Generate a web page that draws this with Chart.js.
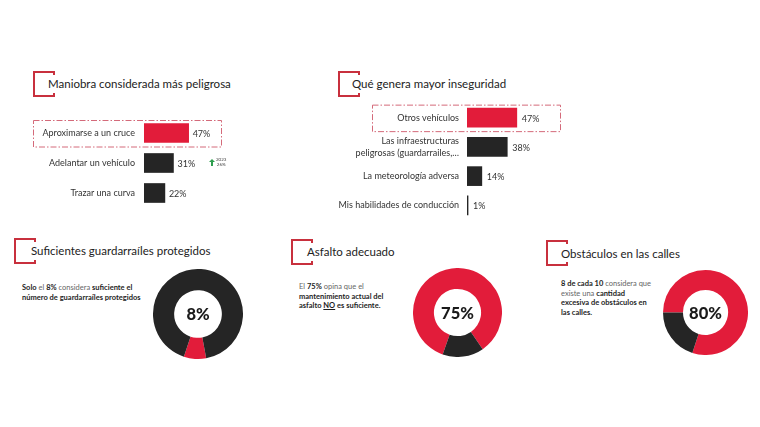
<!DOCTYPE html>
<html lang="es">
<head>
<meta charset="utf-8">
<title>Seguridad vial</title>
<script src="https://cdn.jsdelivr.net/npm/chart.js@4.4.0/dist/chart.umd.min.js"></script>
<style>
  body { margin: 0; width: 760px; height: 427px; background: #fff; position: relative; overflow: hidden; font-family: Lato, sans-serif; color: #222; }
  .caja { position: absolute; }
  .corchete { position: absolute; width: 22px; height: 26px; border: 2px solid #c8303d; border-right: none; box-sizing: border-box; }
  .corchete::before, .corchete::after { content: ''; position: absolute; right: 0; width: 2px; height: 2px; background: #c8303d; }
  .corchete::before { top: 0; }
  .corchete::after { bottom: 0; }
  .titulo { position: absolute; font-size: 11.5px; line-height: 14px; white-space: nowrap; color: #222; }
  .texto { position: absolute; font-size: 7.5px; line-height: 9.5px; color: #666; white-space: nowrap; }
  .texto b { color: #1e1e1e; font-weight: 700; }
  .flecha { position: absolute; left: 209px; top: 159px; width: 6px; height: 7px; }
  .flecha::before { content: ''; position: absolute; left: 0; top: 0; border-left: 3px solid transparent; border-right: 3px solid transparent; border-bottom: 3px solid #2e9e4f; }
  .flecha::after { content: ''; position: absolute; left: 2px; top: 3px; width: 2px; height: 4px; background: #2e9e4f; }
  .antes { position: absolute; left: 216px; top: 158px; font-size: 4.5px; line-height: 4.5px; color: #444; text-align: center; }
</style>
</head>
<body>

<div class="corchete" style="left:33px; top:71px"></div>
<div class="titulo" style="left:48px; top:77px">Maniobra considerada más peligrosa</div>
<div class="caja" style="left:30px; top:118px; width:209px; height:90px"><canvas id="maniobraChart"></canvas></div>
<div class="flecha"></div>
<div class="antes">2023<br>26%</div>

<div class="corchete" style="left:338px; top:71px"></div>
<div class="titulo" style="left:352px; top:77px">Qué genera mayor inseguridad</div>
<div class="caja" style="left:325px; top:103px; width:248px; height:117px"><canvas id="inseguridadChart"></canvas></div>

<div class="corchete" style="left:14px; top:238px"></div>
<div class="titulo" style="left:31px; top:244px">Suficientes guardarraíles protegidos</div>
<div class="texto" style="left:22px; top:283px"><b>Solo</b> el <b>8%</b> considera <b>suficiente el</b><br><b>número de guardarraíles protegidos</b></div>
<div class="caja" style="left:153px; top:269px; width:90px; height:90px"><canvas id="guardarrailChart"></canvas></div>

<div class="corchete" style="left:291px; top:239px"></div>
<div class="titulo" style="left:307px; top:245px">Asfalto adecuado</div>
<div class="texto" style="left:299px; top:282px">El <b>75%</b> opina que el<br><b>mantenimiento actual del</b><br><b>asfalto <u>NO</u> es suficiente.</b></div>
<div class="caja" style="left:413px; top:268px; width:89px; height:89px"><canvas id="asfaltoChart"></canvas></div>

<div class="corchete" style="left:546px; top:240px"></div>
<div class="titulo" style="left:561px; top:247px">Obstáculos en las calles</div>
<div class="texto" style="left:561px; top:279px"><b>8 de cada 10</b> considera que<br>existe una <b>cantidad</b><br><b>excesiva de obstáculos en</b><br><b>las calles.</b></div>
<div class="caja" style="left:663px; top:270px; width:85px; height:85px"><canvas id="obstaculosChart"></canvas></div>

<script>
// Datos
const maniobras = ['Aproximarse a un cruce', 'Adelantar un vehículo', 'Trazar una curva'];
const maniobrasPct = [47, 31, 22];

const inseguridad = ['Otros vehículos', ['Las infraestructuras', 'peligrosas (guardarrailes,…'], 'La meteorología adversa', 'Mis habilidades de conducción'];
const inseguridadPct = [47, 38, 14, 1];

// porciones tal como se ven en los anillos (rojo, negro)
const guardarrailPartes = [8, 92];
const asfaltoPartes = [85, 15];
const obstaculosPartes = [80, 20];
const anillosTexto = ['8%', '75%', '80%'];

const ROJO = '#e21c3a';
const NEGRO = '#252525';

Chart.defaults.font.family = 'Lato, sans-serif';
Chart.defaults.animation = false;

// etiquetas de porcentaje y caja punteada
const etiquetasBarras = {
    id: 'etiquetasBarras',
    afterDatasetsDraw(chart, args, opts) {
        const ctx = chart.ctx;
        const meta = chart.getDatasetMeta(0);
        const valores = chart.data.datasets[0].data;
        ctx.save();
        ctx.font = '9px Lato, sans-serif';
        ctx.fillStyle = '#333';
        ctx.textBaseline = 'middle';
        meta.data.forEach((bar, i) => {
            ctx.fillText(valores[i] + '%', bar.x + opts.gap, bar.y + 1);
        });
        // caja alrededor de la primera fila
        const primera = meta.data[0];
        const left = chart.chartArea.left + opts.cajaIzq;
        const right = chart.chartArea.left + opts.cajaDer;
        const top = primera.y - primera.height / 2 - 3.5;
        const bottom = primera.y + primera.height / 2 + 4;
        ctx.strokeStyle = '#d46a7a';
        ctx.lineWidth = 1;
        ctx.setLineDash([6, 2, 1.5, 2]);
        ctx.strokeRect(left + 0.5, top + 0.5, right - left, bottom - top);
        ctx.restore();
    }
};

function crearBarras(id, etiquetas, valores, anchoEje, separacion, gap, cajaIzq, cajaDer) {
    new Chart(document.getElementById(id), {
        type: 'bar',
        data: {
            labels: etiquetas,
            datasets: [{
                data: valores,
                backgroundColor: valores.map((v, i) => i === 0 ? ROJO : NEGRO),
                barThickness: 19,
                borderWidth: 0
            }]
        },
        options: {
            indexAxis: 'y',
            responsive: true,
            maintainAspectRatio: false,
            layout: { padding: 0, autoPadding: false },
            plugins: {
                legend: { display: false },
                tooltip: { enabled: false },
                etiquetasBarras: { gap: gap, cajaIzq: cajaIzq, cajaDer: cajaDer }
            },
            scales: {
                x: { min: 0, max: 100, display: false },
                y: {
                    grid: { display: false, drawTicks: false },
                    border: { display: false },
                    ticks: {
                        autoSkip: false,
                        padding: separacion,
                        color: '#333',
                        font: { size: 9, lineHeight: 1.35 }
                    },
                    afterFit(scale) {
                        scale.width = anchoEje;
                        scale.paddingTop = 0;
                        scale.paddingBottom = 0;
                    }
                }
            }
        },
        plugins: [etiquetasBarras]
    });
}

// texto en el centro del anillo
const textoCentro = {
    id: 'textoCentro',
    afterDraw(chart, args, opts) {
        const ctx = chart.ctx;
        const a = chart.chartArea;
        ctx.save();
        ctx.font = '900 16.5px Lato, sans-serif';
        ctx.fillStyle = '#1a1a1a';
        ctx.textAlign = 'center';
        ctx.textBaseline = 'middle';
        ctx.fillText(opts.texto, (a.left + a.right) / 2, (a.top + a.bottom) / 2 + 1);
        ctx.restore();
    }
};

function crearAnillo(id, partes, texto, giro) {
    new Chart(document.getElementById(id), {
        type: 'doughnut',
        data: {
            labels: ['Rojo', 'Negro'],
            datasets: [{
                data: partes,
                backgroundColor: [ROJO, NEGRO],
                borderWidth: 0,
                hoverOffset: 0
            }]
        },
        options: {
            responsive: true,
            maintainAspectRatio: false,
            cutout: '53%',
            rotation: giro,
            layout: { padding: 0 },
            plugins: {
                legend: { display: false },
                tooltip: { enabled: false },
                textoCentro: { texto: texto }
            }
        },
        plugins: [textoCentro]
    });
}

window.onload = function() {
    crearBarras('maniobraChart', maniobras, maniobrasPct, 114, 9, 4, -111, 77);
    crearBarras('inseguridadChart', inseguridad, inseguridadPct, 142, 8, 5, -95, 93);
    crearAnillo('guardarrailChart', guardarrailPartes, anillosTexto[0], 169.5);
    crearAnillo('asfaltoChart', asfaltoPartes, anillosTexto[1], 199.5);
    crearAnillo('obstaculosChart', obstaculosPartes, anillosTexto[2], 270);
};
</script>
</body>
</html>
